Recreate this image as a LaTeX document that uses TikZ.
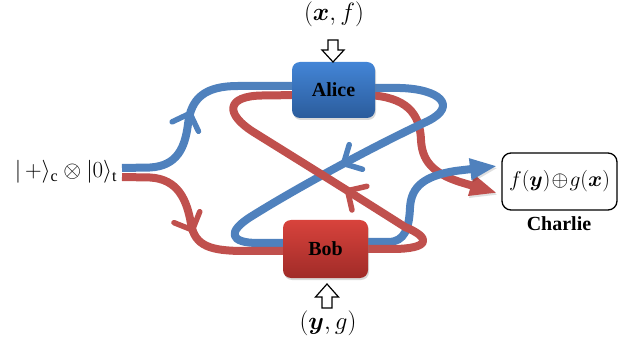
\RequirePackage{fix-cm}
\documentclass[tikz,border=0pt]{standalone}
\usepackage{amsmath}
\usepackage{bm}
\usepackage{fontspec}
\setmainfont{Liberation Serif}
\usetikzlibrary{arrows.meta,decorations.markings,shadows}
\definecolor{lblue}{HTML}{4F81BD}
\definecolor{lred}{HTML}{C0504D}
\definecolor{atop}{HTML}{4385D6}
\definecolor{abot}{HTML}{2B5C9C}
\definecolor{btop}{HTML}{D8433C}
\definecolor{bbot}{HTML}{A02B28}
\begin{document}
\begin{tikzpicture}[x=1pt,y=-1pt,
  beam/.style={line width=8pt, line join=round,
    preaction={draw=black, opacity=0.12, transform canvas={shift={(1pt,-2pt)}}}},
  bluebeam/.style={beam, draw=lblue},
  redbeam/.style={beam, draw=lred},
  midarrow/.style={postaction={decorate, decoration={markings,
    mark=at position #1 with {\arrow{Straight Barb[length=14pt,width=28pt,line width=5.5pt,round]}}}}},
  endarrow/.style={-{Triangle[length=27pt,width=20pt]}},
  party/.style={rounded corners=8pt, inner sep=0pt,
    font=\fontsize{20}{24}\selectfont\bfseries,
    drop shadow={opacity=0.3, shadow xshift=1pt, shadow yshift=-2pt}},
  mathlab/.style={inner sep=1pt, font=\fontsize{25}{30}\selectfont},
  hollow/.style={draw=black, fill=white, line width=1.2pt, line join=miter}
]
\useasboundingbox (0,0) rectangle (618,347);

% endpoints
\coordinate (inB) at (122,168);
\coordinate (inR) at (122,177);
\coordinate (aInB) at (300,86);
\coordinate (aInR) at (300,95);
\coordinate (aOutB) at (368,88);
\coordinate (aOutR) at (368,95);
\coordinate (bInB) at (292,243);
\coordinate (bInR) at (292,251);
\coordinate (bOutB) at (360,242);
\coordinate (bOutR) at (360,249);
\coordinate (cB) at (497,166);
\coordinate (cR) at (497,193);

% Alice -> Charlie (red)
\draw[redbeam, endarrow] (aOutR) .. controls (406,97) and (420,113) .. (421,140)
  .. controls (422,160) and (432,173) .. (460,182) -- (cR);
% Alice -> Bob (blue)
\draw[bluebeam, midarrow=0.515] (aOutB) -- (400,88) .. controls (440,89) and (458,106) .. (428,121)
  .. controls (380,143) and (300,186) .. (252,216)
  .. controls (226,232) and (230,243) .. (258,243) -- (bInB);
% Bob -> Charlie (blue)
\draw[bluebeam, endarrow] (bOutB) -- (388,242) .. controls (405,242) and (409,228) .. (410,208)
  .. controls (411,186) and (425,176) .. (455,171) -- (cB);
% Bob -> Alice (red)
\draw[redbeam, midarrow=0.43] (bOutR) -- (392,249) .. controls (430,249) and (432,238) .. (405,227)
  .. controls (350,192) and (300,161) .. (255,133)
  .. controls (224,114) and (226,96) .. (262,95.5) -- (aInR);
% input -> Bob (red)
\draw[redbeam, midarrow=0.50] (inR) -- (150,177.5) .. controls (178,179) and (187,200) .. (191,224)
  .. controls (195,246) and (210,251) .. (245,251) -- (bInR);
% input -> Alice (blue)
\draw[bluebeam, midarrow=0.47] (inB) -- (150,167.5) .. controls (177,166) and (185,148) .. (188,124)
  .. controls (191,98) and (205,86) .. (238,86) -- (aInB);

% parties
\node[party, minimum width=83pt, minimum height=56pt, top color=atop, bottom color=abot]
  (alice) at (333.5,90) {Alice};
\node[party, minimum width=85pt, minimum height=58pt, top color=btop, bottom color=bbot]
  (bob) at (325.5,249) {Bob};
\node[draw=black, line width=1.3pt, rounded corners=9pt, minimum width=115pt, minimum height=57pt,
  inner sep=0pt, font=\fontsize{21.5}{26}\selectfont] (charlie) at (559.5,181.5)
  {$f(\bm{y})\!\oplus\! g(\bm{x})$};
\node[font=\fontsize{20}{24}\selectfont\bfseries] (charlielab) at (559,224) {Charlie};

% inputs
\node[mathlab] (xf) at (334,14) {$(\bm{x},f)$};
\node[mathlab] (yg) at (328,323) {$(\bm{y},g)$};
\node[mathlab, font=\fontsize{23}{28}\selectfont] (state) at (66,172)
  {$|\,{+}\rangle_{\mathrm{c}}\otimes|0\rangle_{\mathrm{t}}$};

% hollow arrows
\draw[hollow] (328,40) -- (338,40) -- (338,50) -- (344,50) -- (333,62) -- (322,50) -- (328,50) -- cycle;
\draw[hollow] (322,308) -- (332,308) -- (332,297) -- (338.5,297) -- (327,284) -- (315.5,297) -- (322,297) -- cycle;
\end{tikzpicture}
\end{document}
